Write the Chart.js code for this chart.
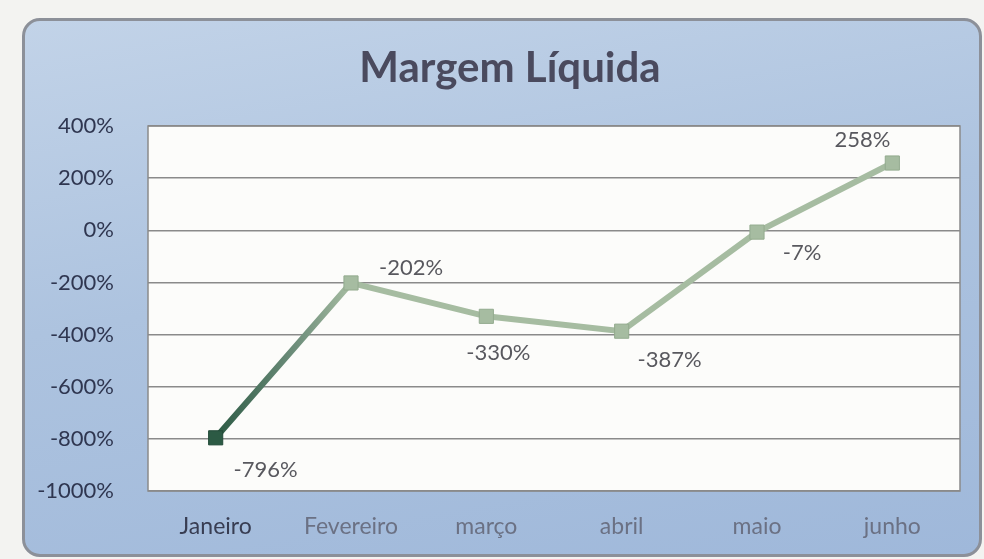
<!DOCTYPE html>
<html>
<head>
<meta charset="utf-8">
<script src="https://cdn.jsdelivr.net/npm/chart.js@4.4.0/dist/chart.umd.min.js"></script>
<style>
    html, body { margin: 0; padding: 0; background: #f3f3f1; }
    .page { position: relative; width: 984px; height: 559px; overflow: hidden; }
    .card {
        position: absolute; left: 22px; top: 18px; width: 954px; height: 533px;
        border-radius: 18px;
        border: 3px solid #8c9099;
        background: linear-gradient(170deg, #c2d3e8 0%, #adc3df 45%, #9fb8da 100%);
    }
    canvas { position: absolute; left: 0; top: 0; }
</style>
</head>
<body>
<div class="page">
    <div class="card"></div>
    <canvas id="margemChart" width="984" height="559"></canvas>
</div>
<script>
const chartTitle = 'Margem Líquida';
const months = ['Janeiro', 'Fevereiro', 'março', 'abril', 'maio', 'junho'];
const margemValues = [-796, -202, -330, -387, -7, 258];
const yTickMin = -1000;
const yTickMax = 400;
const yTickStep = 200;

// where each value label sits relative to its point
const labelOffsets = [[50, 32], [60, -15], [12, 37], [48, 29], [45, 21], [-30, -23]];

const FONT = 'Lato, "Open Sans", sans-serif';
const DARK_GREEN = '#2c5a44';
const LIGHT_GREEN = '#a6bca1';

const plotBackground = {
    id: 'plotBackground',
    beforeDraw(chart) {
        const { ctx, chartArea } = chart;
        ctx.save();
        ctx.fillStyle = '#fcfcfa';
        ctx.fillRect(chartArea.left, chartArea.top, chartArea.right - chartArea.left, chartArea.bottom - chartArea.top);
        ctx.restore();
    },
    afterDatasetsDraw(chart) {
        const { ctx, chartArea } = chart;
        ctx.save();
        ctx.strokeStyle = '#8a8a8a';
        ctx.lineWidth = 1.5;
        ctx.strokeRect(chartArea.left, chartArea.top, chartArea.right - chartArea.left, chartArea.bottom - chartArea.top);
        ctx.restore();
    }
};

// the title in the original is centred on the card, not on the canvas
const cardTitle = {
    id: 'cardTitle',
    afterDraw(chart) {
        const { ctx } = chart;
        ctx.save();
        ctx.font = `bold 42px ${FONT}`;
        ctx.fillStyle = '#4a4a5e';
        ctx.textAlign = 'center';
        ctx.textBaseline = 'middle';
        ctx.fillText(chartTitle, 510, 68);
        ctx.restore();
    }
};

const valueLabels = {
    id: 'valueLabels',
    afterDatasetsDraw(chart) {
        const { ctx } = chart;
        const meta = chart.getDatasetMeta(0);
        ctx.save();
        ctx.font = `22px ${FONT}`;
        ctx.fillStyle = '#58585e';
        ctx.textAlign = 'center';
        ctx.textBaseline = 'middle';
        meta.data.forEach((point, i) => {
            const [dx, dy] = labelOffsets[i];
            ctx.fillText(margemValues[i] + '%', point.x + dx, point.y + dy);
        });
        ctx.restore();
    }
};

function lineGradient(context) {
    const chart = context.chart;
    const xScale = chart.scales.x;
    if (!chart.chartArea || !xScale) {
        return LIGHT_GREEN;
    }
    const x0 = xScale.getPixelForValue(0);
    const x1 = xScale.getPixelForValue(1);
    if (!Number.isFinite(x0) || !Number.isFinite(x1) || x0 === x1) {
        return LIGHT_GREEN;
    }
    const grad = chart.ctx.createLinearGradient(x0, 0, x1, 0);
    grad.addColorStop(0, DARK_GREEN);
    grad.addColorStop(0.6, '#6f8f7c');
    grad.addColorStop(1, LIGHT_GREEN);
    return grad;
}

const ctx = document.getElementById('margemChart');
new Chart(ctx, {
    type: 'line',
    data: {
        labels: months,
        datasets: [
            {
                label: chartTitle,
                data: margemValues,
                borderColor: lineGradient,
                borderWidth: 6,
                pointStyle: 'rect',
                pointRadius: 10,
                pointHoverRadius: 10,
                pointBackgroundColor: margemValues.map((_, i) => (i === 0 ? DARK_GREEN : LIGHT_GREEN)),
                pointBorderColor: margemValues.map((_, i) => (i === 0 ? '#234a38' : '#93ab8e')),
                pointBorderWidth: 1,
                tension: 0
            }
        ]
    },
    options: {
        responsive: false,
        animation: false,
        layout: {
            padding: { left: 0, right: 24, top: 126, bottom: 0 }
        },
        plugins: {
            legend: { display: false },
            tooltip: { enabled: false },
            title: { display: false }
        },
        scales: {
            x: {
                offset: true,
                grid: { display: false, drawTicks: false },
                border: { display: false },
                ticks: {
                    padding: 22,
                    color: (c) => (c.index === 0 ? '#383d52' : '#6b7184'),
                    font: { family: FONT, size: 23 }
                },
                afterFit: (scale) => { scale.height = 68; }
            },
            y: {
                min: yTickMin,
                max: yTickMax,
                ticks: {
                    stepSize: yTickStep,
                    padding: 34,
                    color: '#2f3650',
                    font: { family: FONT, size: 22 },
                    callback: (value) => value + '%'
                },
                grid: { color: '#8a8a8a', lineWidth: 1.5, drawTicks: false },
                border: { display: false },
                afterFit: (scale) => { scale.width = 148; }
            }
        }
    },
    plugins: [plotBackground, valueLabels, cardTitle]
});
</script>
</body>
</html>
